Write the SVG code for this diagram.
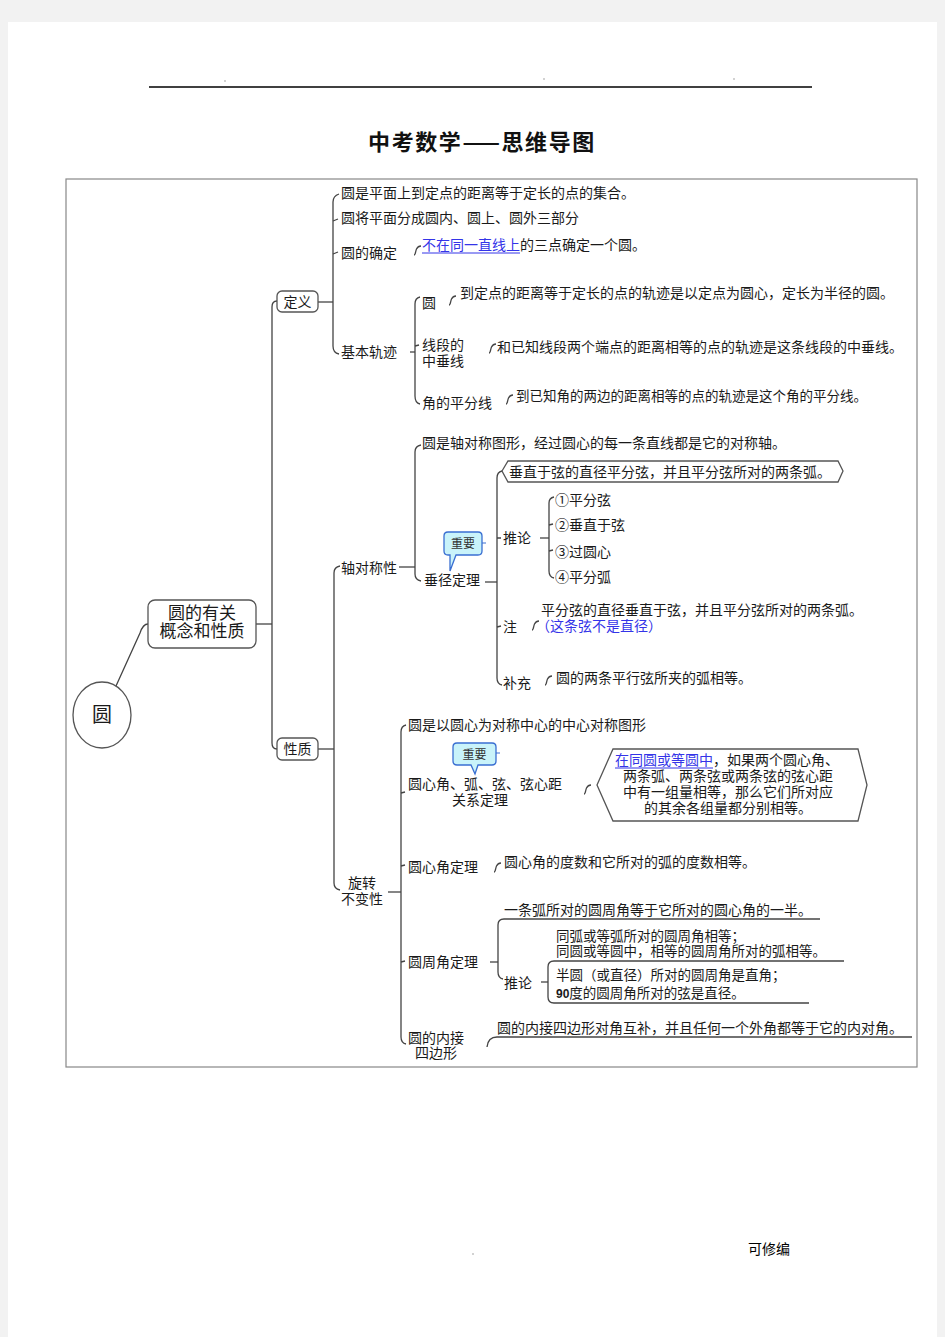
<svg xmlns="http://www.w3.org/2000/svg" xmlns:xlink="http://www.w3.org/1999/xlink" width="945" height="1337" viewBox="0 0 945 1337">
<style>
.t{font-family:"Liberation Serif","Noto Sans CJK SC",serif;font-size:14px;fill:#1a1a1a}
.s{font-size:13.5px}
.b{font-size:17px}
.blue{fill:#3434e8}
.ln{fill:none;stroke:#444;stroke-width:1.3}
.ul{stroke:#3434e8;stroke-width:1}
.box{fill:#fff;stroke:#555;stroke-width:1.3}
.call{fill:#c9f3fa;stroke:#3a6fd2;stroke-width:1.3}
.ct{font-family:"Noto Sans CJK SC",sans-serif;font-size:12px;fill:#333;text-anchor:middle}
.m{text-anchor:middle}
</style>
<defs>
<path id="curl" d="M0,5 C1.5,5 1.5,1 2.5,-1 C3.5,-3 4.5,-4 7,-4"/>
</defs>
<rect x="0" y="0" width="945" height="1337" fill="#f2f2f2"/>
<rect x="8" y="22" width="929" height="1320" fill="#fff"/>
<g id="header">
<line x1="149" y1="87" x2="812" y2="87" stroke="#000" stroke-width="1.5"/>
<circle cx="225" cy="81" r="0.8" fill="#999"/>
<circle cx="544" cy="79" r="0.8" fill="#999"/>
<circle cx="734" cy="79" r="0.8" fill="#999"/>
<text x="482" y="150" class="m" font-family="Noto Sans CJK SC,sans-serif" font-size="22" font-weight="bold" letter-spacing="1.6" fill="#111">中考数学——思维导图</text>
</g>
<rect id="frame" x="66" y="179" width="851" height="888" fill="none" stroke="#888" stroke-width="1.2"/>

<g id="connectors">
<path class="ln" d="M116,686 L140,633 Q143,624 148,624"/>
<path class="ln" d="M256,624 L272,624"/>
<path class="ln" d="M277,301 Q272,301 272,307 L272,743 Q272,749 277,749"/>
<path class="ln" d="M318,302 L333,302"/>
<path class="ln" d="M339,194 Q333,196 333,202 L333,346 Q333,353 339,354"/>
<path class="ln" d="M333,221 L338,219 M333,254 L338,252"/>
<use href="#curl" class="ln" x="414" y="250"/>
<path class="ln" d="M410,352 L415,352"/>
<path class="ln" d="M420,297 Q415,298 415,304 L415,396 Q415,403 420,404"/>
<path class="ln" d="M415,346 L419,345"/>
<use href="#curl" class="ln" x="449" y="300"/>
<use href="#curl" class="ln" x="489" y="348"/>
<use href="#curl" class="ln" x="506" y="399"/>
<path class="ln" d="M318,749 L334,749"/>
<path class="ln" d="M340,566 Q334,567 334,573 L334,883 Q334,889 340,890"/>
<path class="ln" d="M399,567 L415,567"/>
<path class="ln" d="M421,445 Q415,446 415,452 L415,574 Q415,580 421,581"/>
<path class="ln" d="M485,582 L497,582"/>
<path class="ln" d="M502,471 Q497,472 497,478 L497,678 Q497,684 502,685"/>
<path class="ln" d="M497,538 L501,538 M497,627 L501,626"/>
<path class="ln" d="M540,538 L549,538"/>
<path class="ln" d="M554,497 Q549,498 549,503 L549,571 Q549,577 554,578"/>
<path class="ln" d="M549,525 L553,524 M549,551 L553,550"/>
<use href="#curl" class="ln" x="532" y="625"/>
<use href="#curl" class="ln" x="545" y="680"/>
<path class="ln" d="M388,892 L401,892"/>
<path class="ln" d="M406,725 Q401,726 401,732 L401,1037 Q401,1043 406,1044"/>
<path class="ln" d="M401,793 L405,792 M401,866 L405,865 M401,962 L405,961"/>
<use href="#curl" class="ln" x="584" y="789"/>
<use href="#curl" class="ln" x="494" y="867"/>
<path class="ln" d="M490,962 L498,962"/>
<path class="ln" d="M504,919 Q498,919 498,925 L498,972 Q498,978 503,979"/>
<path class="ln" d="M504,919 L820,919"/>
<path class="ln" d="M541,982 L548,982"/>
<path class="ln" d="M554,961 Q548,961 548,967 L548,997 Q548,1003 554,1003"/>
<path class="ln" d="M554,961 L844,961 M554,1003 L809,1003"/>
<path class="ln" d="M487,1047 Q488,1037 497,1037 L912,1037"/>
</g>

<g id="root">
<ellipse cx="102" cy="715" rx="29" ry="33" class="box"/>
<text x="102" y="722" class="t m" style="font-size:20px">圆</text>
</g>
<g id="n-concept">
<rect x="148" y="600" width="108" height="48" rx="7" class="box"/>
<text x="202" y="619" class="t b m">圆的有关</text>
<text x="202" y="637" class="t b m">概念和性质</text>
</g>
<g id="n-def">
<rect x="277" y="291" width="41" height="21" rx="5" class="box"/>
<text x="297.5" y="307" class="t m">定义</text>
</g>
<g id="n-prop">
<rect x="277" y="738" width="41" height="22" rx="5" class="box"/>
<text x="297.5" y="754" class="t m">性质</text>
</g>

<g id="n-def-items">
<text x="341" y="198" class="t">圆是平面上到定点的距离等于定长的点的集合。</text>
<text x="341" y="223" class="t">圆将平面分成圆内、圆上、圆外三部分</text>
<text x="341" y="258" class="t">圆的确定</text>
<text x="422" y="250" class="t"><tspan class="blue">不在同一直线上</tspan>的三点确定一个圆。</text>
<line x1="422" y1="253" x2="520" y2="253" class="ul"/>
<text x="341" y="357" class="t">基本轨迹</text>
</g>
<g id="n-locus">
<text x="422" y="308" class="t">圆</text>
<text x="460" y="298" class="t">到定点的距离等于定长的点的轨迹是以定点为圆心，定长为半径的圆。</text>
<text x="422" y="350" class="t">线段的</text>
<text x="422" y="366" class="t">中垂线</text>
<text x="497" y="352" class="t">和已知线段两个端点的距离相等的点的轨迹是这条线段的中垂线。</text>
<text x="422" y="408" class="t">角的平分线</text>
<text x="516" y="401" class="t s">到已知角的两边的距离相等的点的轨迹是这个角的平分线。</text>
</g>

<g id="n-axis">
<text x="341" y="573" class="t">轴对称性</text>
<text x="422" y="448" class="t">圆是轴对称图形，经过圆心的每一条直线都是它的对称轴。</text>
<text x="424" y="585" class="t">垂径定理</text>
</g>
<g id="callout1">
<path class="call" d="M448,532 L478,532 Q482,532 482,536 L482,551 Q482,555 478,555 L456,555 L450,571 L450,555 L448,555 Q444,555 444,551 L444,536 Q444,532 448,532 Z"/>
<text x="463" y="548" class="ct">重要</text>
<line x1="482" y1="543" x2="486" y2="543" stroke="#3a6fd2" stroke-width="1"/>
</g>
<g id="n-perp">
<polygon class="box" points="502,471 508,461 838,461 843,471 838,482 508,482"/>
<text x="509" y="477" class="t">垂直于弦的直径平分弦，并且平分弦所对的两条弧。</text>
<text x="503" y="543" class="t">推论</text>
<text x="555" y="505" class="t">①平分弦</text>
<text x="555" y="530" class="t">②垂直于弦</text>
<text x="555" y="557" class="t">③过圆心</text>
<text x="555" y="582" class="t">④平分弧</text>
<text x="503" y="632" class="t">注</text>
<text x="541" y="615" class="t">平分弦的直径垂直于弦，并且平分弦所对的两条弧。</text>
<text x="536" y="631" class="t blue">（这条弦不是直径）</text>
<text x="503" y="688" class="t">补充</text>
<text x="556" y="683" class="t">圆的两条平行弦所夹的弧相等。</text>
</g>

<g id="n-rot">
<text x="362" y="888" class="t m">旋转</text>
<text x="362" y="904" class="t m">不变性</text>
<text x="408" y="730" class="t">圆是以圆心为对称中心的中心对称图形</text>
<text x="408" y="789" class="t">圆心角、弧、弦、弦心距</text>
<text x="480" y="805" class="t m">关系定理</text>
</g>
<g id="callout2">
<path class="call" d="M457,743 L492,743 Q496,743 496,747 L496,761 Q496,765 492,765 L478,765 L475,774 L471,765 L457,765 Q453,765 453,761 L453,747 Q453,743 457,743 Z"/>
<text x="474.5" y="759" class="ct">重要</text>
<line x1="496" y1="753" x2="500" y2="753" stroke="#3a6fd2" stroke-width="1"/>
</g>
<g id="n-central-rel">
<polygon class="box" points="597,785 613,749 858,749 867,785 858,821 613,821"/>
<text x="615" y="765" class="t"><tspan class="blue">在同圆或等圆中</tspan>，如果两个圆心角、</text>
<line x1="615" y1="768" x2="713" y2="768" class="ul"/>
<text x="728" y="781" class="t m">两条弧、两条弦或两条弦的弦心距</text>
<text x="728" y="797" class="t m">中有一组量相等，那么它们所对应</text>
<text x="728" y="813" class="t m">的其余各组量都分别相等。</text>
</g>
<g id="n-central">
<text x="408" y="872" class="t">圆心角定理</text>
<text x="504" y="867" class="t">圆心角的度数和它所对的弧的度数相等。</text>
</g>
<g id="n-inscribed">
<text x="408" y="967" class="t">圆周角定理</text>
<text x="504" y="915" class="t">一条弧所对的圆周角等于它所对的圆心角的一半。</text>
<text x="504" y="988" class="t">推论</text>
<text x="556" y="941" class="t s">同弧或等弧所对的圆周角相等；</text>
<text x="556" y="956" class="t s">同圆或等圆中，相等的圆周角所对的弧相等。</text>
<text x="556" y="980" class="t s">半圆（或直径）所对的圆周角是直角；</text>
<text x="556" y="998" class="t s"><tspan font-family="Liberation Sans" font-weight="bold" font-size="12">90</tspan>度的圆周角所对的弦是直径。</text>
</g>
<g id="n-quad">
<text x="408" y="1043" class="t">圆的内接</text>
<text x="436" y="1058" class="t m">四边形</text>
<text x="497" y="1033" class="t">圆的内接四边形对角互补，并且任何一个外角都等于它的内对角。</text>
</g>
<g id="footer">
<circle cx="473" cy="1254" r="0.8" fill="#999"/>
<text x="748" y="1254" font-family="Noto Sans CJK SC,sans-serif" font-size="14" fill="#000">可修编</text>
</g>
</svg>
